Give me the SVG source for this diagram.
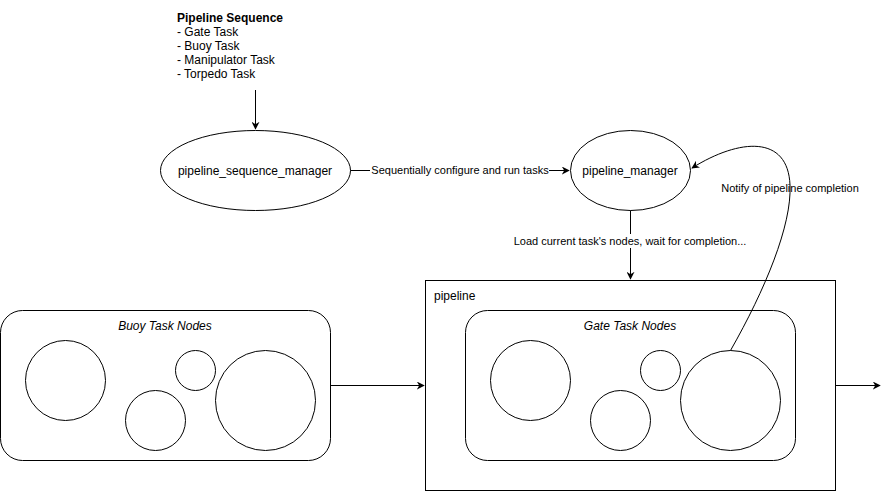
<svg xmlns="http://www.w3.org/2000/svg" width="890" height="492" viewBox="0 0 890 492">
<defs>
<marker id="arr" viewBox="0 0 10 10" refX="9" refY="5" markerWidth="8" markerHeight="8" markerUnits="userSpaceOnUse" orient="auto">
<path d="M0,0 L10,5 L0,10 L3,5 Z" fill="#000"/>
</marker>
</defs>
<style>
text{font-family:"Liberation Sans",Arial,sans-serif;fill:#000;font-size:12px}
.lbl{font-size:11px}
.it{font-style:italic}
.s{fill:#fff;stroke:#000;stroke-width:1}
.e{fill:none;stroke:#000;stroke-width:1}
</style>
<rect width="890" height="492" fill="#fff"/>
<g id="sequence-text">
<text x="177" y="22" font-weight="bold">Pipeline Sequence</text>
<text x="177" y="36">- Gate Task</text>
<text x="177" y="50">- Buoy Task</text>
<text x="177" y="64">- Manipulator Task</text>
<text x="177" y="78">- Torpedo Task</text>
</g>
<g id="pipeline-container">
<rect class="s" x="425.5" y="280.5" width="410" height="210"/>
<text x="434" y="300">pipeline</text>
</g>
<g id="buoy-task-nodes">
<rect class="s" x="0.5" y="310.5" width="330" height="150" rx="22"/>
<text x="165" y="330" text-anchor="middle" class="it">Buoy Task Nodes</text>
<circle class="s" cx="65.5" cy="380.5" r="40"/>
<circle class="s" cx="195.5" cy="370.5" r="20"/>
<circle class="s" cx="155.5" cy="420.5" r="30"/>
<circle class="s" cx="265.5" cy="400.5" r="50"/>
</g>
<g id="gate-task-nodes">
<rect class="s" x="465.5" y="310.5" width="330" height="150" rx="22"/>
<text x="630" y="330" text-anchor="middle" class="it">Gate Task Nodes</text>
<circle class="s" cx="530.5" cy="380.5" r="40"/>
<circle class="s" cx="660.5" cy="370.5" r="20"/>
<circle class="s" cx="620.5" cy="420.5" r="30"/>
<circle class="s" cx="730.5" cy="400.5" r="50"/>
</g>
<g id="pipeline-sequence-manager">
<ellipse class="s" cx="255.5" cy="170.5" rx="95" ry="40"/>
<text x="255" y="175" text-anchor="middle">pipeline_sequence_manager</text>
</g>
<g id="pipeline-manager">
<ellipse class="s" cx="630.5" cy="170.5" rx="60" ry="40"/>
<text x="630" y="175" text-anchor="middle">pipeline_manager</text>
</g>
<g id="connectors">
<path class="e" d="M255.5,90 L255.5,129" marker-end="url(#arr)"/>
<path class="e" d="M350.5,170.5 L569,170.5" marker-end="url(#arr)"/>
<rect x="370" y="163" width="179" height="14" fill="#fff"/>
<text class="lbl" x="460" y="174" text-anchor="middle">Sequentially configure and run tasks</text>
<path class="e" d="M630.5,210.5 L630.5,279" marker-end="url(#arr)"/>
<rect x="512" y="234" width="236" height="14" fill="#fff"/>
<text class="lbl" x="630" y="245" text-anchor="middle">Load current task's nodes, wait for completion...</text>
<path class="e" d="M330.5,385.5 L424,385.5" marker-end="url(#arr)"/>
<path class="e" d="M835.5,385.5 L880,385.5" marker-end="url(#arr)"/>
<path class="e" d="M730.5,350.5 C765,290 792,225 790,185 C788,135 740,138 692,168" marker-end="url(#arr)"/>
<text class="lbl" x="790" y="192" text-anchor="middle">Notify of pipeline completion</text>
</g>
</svg>
